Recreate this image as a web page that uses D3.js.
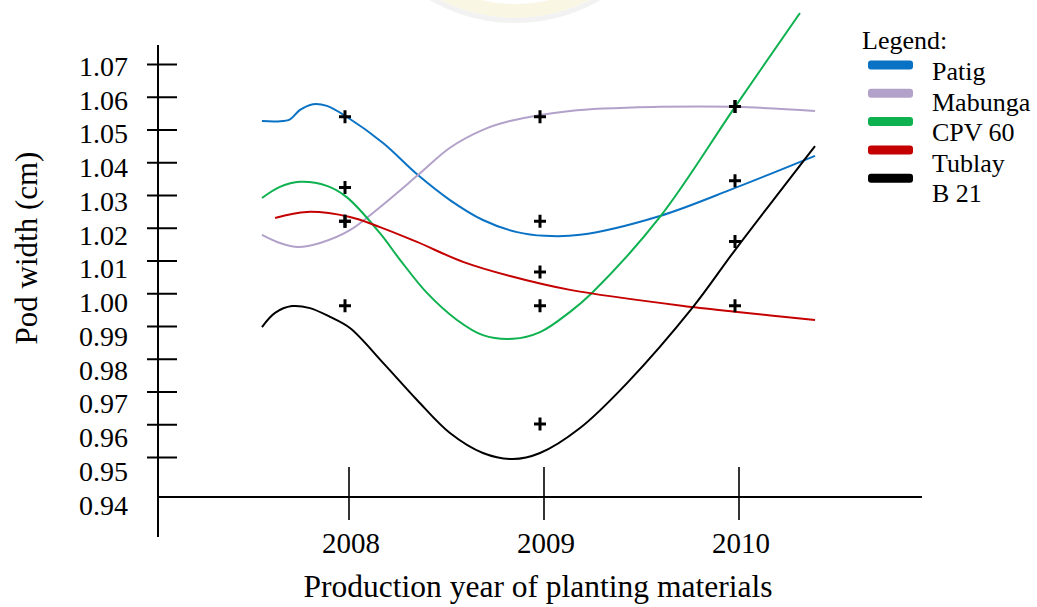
<!DOCTYPE html>
<html>
<head>
<meta charset="utf-8">
<script src="https://cdn.jsdelivr.net/npm/d3@7"></script>
<style>
  html, body { margin: 0; padding: 0; background: #fff; }
  svg { display: block; }
  text { font-family: "Liberation Serif", "Times New Roman", serif; fill: #000; }
</style>
</head>
<body>
<svg id="chart" width="1037" height="607"></svg>
<script>
// ---- data -------------------------------------------------------------
const years = [2008, 2009, 2010];
const varieties = ["Patig", "Mabunga", "CPV 60", "Tublay", "B 21"];
const varietyColors = ["#0a72c4", "#b2a2c9", "#0db14f", "#c40000", "#000000"];
const yTickValues = [1.07, 1.06, 1.05, 1.04, 1.03, 1.02, 1.01, 1.00, 0.99, 0.98, 0.97, 0.96, 0.95];
const yLabelValues = [1.07, 1.06, 1.05, 1.04, 1.03, 1.02, 1.01, 1.00, 0.99, 0.98, 0.97, 0.96, 0.95, 0.94];

// observed yearly means (cm)
const patigMeans   = [1.055, 1.024, 1.036];
const mabungaMeans = [1.024, 1.055, 1.058];
const cpv60Means   = [1.034, 0.999, 1.058];
const tublayMeans  = [1.024, 1.009, 0.999];
const b21Means     = [0.999, 0.964, 1.018];

// fitted trend curves, [year, pod width]
const patigCurve = [[2007.564,1.0537],[2007.646,1.0536],[2007.708,1.0542],[2007.759,1.0570],[2007.826,1.0587],[2007.897,1.0582],[2008.000,1.0549],[2008.185,1.0472],[2008.364,1.0377],[2008.528,1.0303],[2008.697,1.0244],[2008.872,1.0208],[2009.015,1.0197],[2009.195,1.0200],[2009.605,1.0256],[2009.990,1.0339],[2010.400,1.0434]];
const mabungaCurve = [[2007.564,1.0200],[2007.656,1.0176],[2007.749,1.0164],[2007.862,1.0176],[2008.015,1.0214],[2008.169,1.0282],[2008.364,1.0377],[2008.528,1.0458],[2008.697,1.0511],[2008.836,1.0537],[2009.144,1.0567],[2009.605,1.0579],[2009.990,1.0579],[2010.400,1.0567]];
const cpv60Curve = [[2007.564,1.0309],[2007.656,1.0342],[2007.759,1.0357],[2007.897,1.0345],[2008.000,1.0311],[2008.169,1.0205],[2008.272,1.0126],[2008.410,1.0028],[2008.564,0.9948],[2008.697,0.9903],[2008.851,0.9892],[2008.990,0.9912],[2009.144,0.9972],[2009.256,1.0028],[2009.605,1.0253],[2009.990,1.0579],[2010.323,1.0857]];
const tublayCurve = [[2007.631,1.0250],[2007.795,1.0268],[2008.015,1.0253],[2008.169,1.0223],[2008.359,1.0179],[2008.595,1.0120],[2008.836,1.0078],[2009.144,1.0037],[2009.774,0.9986],[2009.990,0.9972],[2010.400,0.9948]];
const b21Curve = [[2007.564,0.9927],[2007.631,0.9969],[2007.718,0.9989],[2007.810,0.9983],[2007.913,0.9957],[2008.015,0.9924],[2008.185,0.9821],[2008.359,0.9711],[2008.528,0.9613],[2008.697,0.9554],[2008.851,0.9536],[2008.990,0.9554],[2009.195,0.9628],[2009.436,0.9761],[2009.774,0.9986],[2009.990,1.0155],[2010.400,1.0463]];

const allMeans = [patigMeans, mabungaMeans, cpv60Means, tublayMeans, b21Means];
const allCurves = [patigCurve, mabungaCurve, cpv60Curve, tublayCurve, b21Curve];

// ---- layout -----------------------------------------------------------
const svg = d3.select("#chart");
const axisX0 = 158, axisX1 = 922;       // horizontal extent of the x axis
const axisYTop = 45, axisYBottom = 537; // vertical extent of the y axis
const baseY = 497;                      // where the x axis crosses

const x = d3.scaleLinear().domain([2008, 2010]).range([347, 737]);
const y = d3.scaleLinear().domain([0.94, 1.07]).range([505, 66]);       // values and labels
const yTick = d3.scaleLinear().domain([0.95, 1.07]).range([457, 64]);   // tick marks

// faint seal in the page header
svg.append("path")
  .attr("d", d3.arc()({innerRadius: 152, outerRadius: 166, startAngle: Math.PI * 0.64, endAngle: Math.PI * 1.36}))
  .attr("transform", "translate(515,-148)")
  .attr("fill", "#f8f4dc")
  .attr("opacity", 0.8);
svg.append("path")
  .attr("d", d3.arc()({innerRadius: 166, outerRadius: 171, startAngle: Math.PI * 0.6, endAngle: Math.PI * 1.4}))
  .attr("transform", "translate(515,-148)")
  .attr("fill", "#f2f2f2");

// ---- axes -------------------------------------------------------------
// y axis line
svg.append("line")
  .attr("x1", axisX0).attr("x2", axisX0)
  .attr("y1", axisYTop).attr("y2", axisYBottom)
  .attr("stroke", "#000").attr("stroke-width", 2);
// x axis line
svg.append("line")
  .attr("x1", axisX0).attr("x2", axisX1)
  .attr("y1", baseY).attr("y2", baseY)
  .attr("stroke", "#000").attr("stroke-width", 2);

// y ticks crossing the axis
const yAxis = svg.append("g")
  .attr("transform", `translate(${axisX0},0)`)
  .call(d3.axisLeft(yTick).tickValues(yTickValues).tickFormat("").tickSize(11));
yAxis.select(".domain").remove();
yAxis.selectAll(".tick line")
  .attr("x1", 19).attr("x2", -11)
  .attr("stroke", "#000").attr("stroke-width", 2);

// y tick labels
svg.append("g").selectAll("text")
  .data(yLabelValues)
  .join("text")
  .attr("x", 128)
  .attr("y", d => y(d))
  .attr("text-anchor", "end")
  .attr("dy", "0.35em")
  .style("font-size", "28px")
  .text(d => d3.format(".2f")(d));

// x ticks crossing the axis
const xAxis = svg.append("g")
  .attr("transform", `translate(0,${baseY})`)
  .call(d3.axisBottom(x).tickValues(years).tickFormat("").tickSize(23));
xAxis.select(".domain").remove();
xAxis.selectAll(".tick line")
  .attr("transform", "translate(1.5,0)")
  .attr("y1", -30).attr("y2", 23)
  .attr("stroke", "#000").attr("stroke-width", 1.6);

// year labels
svg.append("g").selectAll("text")
  .data(years)
  .join("text")
  .attr("x", d => x(d) + 4)
  .attr("y", 553)
  .attr("text-anchor", "middle")
  .style("font-size", "29px")
  .text(d => d);

// axis titles
svg.append("text")
  .attr("x", 538).attr("y", 597)
  .attr("text-anchor", "middle")
  .style("font-size", "31.5px")
  .text("Production year of planting materials");

svg.append("text")
  .attr("transform", "translate(26,248) rotate(-90)")
  .attr("text-anchor", "middle")
  .attr("dy", "0.35em")
  .style("font-size", "31px")
  .text("Pod width (cm)");

// ---- fitted curves ----------------------------------------------------
const line = d3.line()
  .x(d => x(d[0]))
  .y(d => y(d[1]))
  .curve(d3.curveCatmullRom.alpha(0.5));

svg.append("g").selectAll("path")
  .data(allCurves)
  .join("path")
  .attr("d", d => line(d))
  .attr("fill", "none")
  .attr("stroke", (d, i) => varietyColors[i])
  .attr("stroke-width", 2);

// ---- observed means ---------------------------------------------------
const points = [];
allMeans.forEach((vals, i) => vals.forEach((v, j) => points.push({year: years[j], value: v, variety: varieties[i]})));

svg.append("g").selectAll("path")
  .data(points)
  .join("path")
  .attr("transform", d => `translate(${x(d.year) - 2},${y(d.value)})`)
  .attr("d", "M-6,0H6M0,-6.5V6.5")
  .attr("stroke", "#000")
  .attr("stroke-width", 3);

// ---- legend -----------------------------------------------------------
const legend = svg.append("g");
legend.append("text")
  .attr("x", 862).attr("y", 49)
  .style("font-size", "26px")
  .text("Legend:");

legend.selectAll("rect")
  .data(varieties)
  .join("rect")
  .attr("x", 868).attr("width", 45)
  .attr("y", (d, i) => 65 + i * 28.3 - 4.5)
  .attr("height", 9).attr("rx", 3)
  .attr("fill", (d, i) => varietyColors[i]);

legend.selectAll("text.entry")
  .data(varieties)
  .join("text")
  .attr("class", "entry")
  .attr("x", 932)
  .attr("y", (d, i) => 80 + i * 30.5)
  .style("font-size", "26px")
  .text(d => d);
</script>
</body>
</html>
